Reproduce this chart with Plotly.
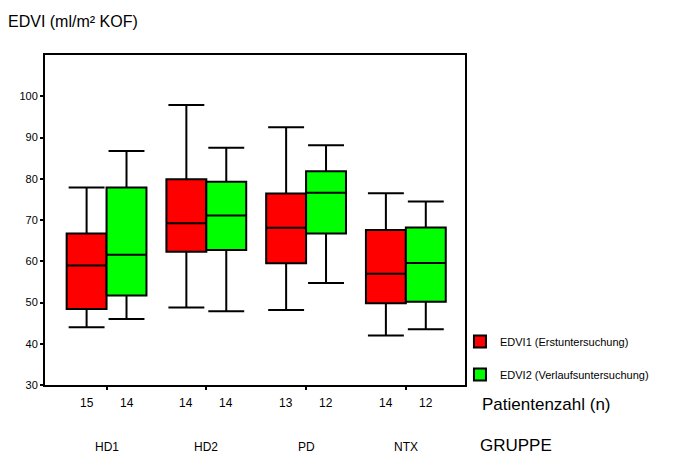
import plotly.graph_objects as go

groups = ["HD1", "HD2", "PD", "NTX"]
series_names = ["EDVI1 (Erstuntersuchung)", "EDVI2 (Verlaufsuntersuchung)"]
colors = ["#ff0000", "#00ff00"]

# EDVI1
s1_low = [44.0, 48.8, 48.2, 42.0]
s1_q1 = [48.4, 62.3, 59.5, 49.8]
s1_med = [59.0, 69.2, 68.1, 57.0]
s1_q3 = [66.7, 79.9, 76.4, 67.6]
s1_high = [77.9, 97.9, 92.5, 76.5]
s1_n = [15, 14, 13, 14]

# EDVI2
s2_low = [46.0, 47.9, 54.7, 43.5]
s2_q1 = [51.7, 62.7, 66.7, 50.2]
s2_med = [61.6, 71.1, 76.6, 59.6]
s2_q3 = [77.9, 79.3, 81.8, 68.2]
s2_high = [86.7, 87.5, 88.1, 74.5]
s2_n = [14, 14, 12, 12]

y_ticks = [30, 40, 50, 60, 70, 80, 90, 100]

font_fam = "Liberation Sans, Arial, sans-serif"

fig = go.Figure()
series = [
    (s1_low, s1_q1, s1_med, s1_q3, s1_high),
    (s2_low, s2_q1, s2_med, s2_q3, s2_high),
]
for k, (lo, q1, med, q3, hi) in enumerate(series):
    fig.add_trace(go.Box(
        name=series_names[k],
        x=groups,
        lowerfence=lo, q1=q1, median=med, q3=q3, upperfence=hi,
        fillcolor=colors[k],
        line=dict(color="black", width=2),
        whiskerwidth=0.9,
        boxpoints=False,
        legendgroup="g%d" % k,
    ))

annotations = []
for i, g in enumerate(groups):
    for k, nvals in enumerate([s1_n, s2_n]):
        annotations.append(dict(
            x=i - 0.2 + 0.4 * k, xref="x", y=-0.055, yref="paper",
            text=str(nvals[i]), showarrow=False,
            font=dict(size=12, color="black", family=font_fam),
            xanchor="center", yanchor="middle",
        ))
    annotations.append(dict(
        x=i, xref="x", y=-0.188, yref="paper", text=g, showarrow=False,
        font=dict(size=12, color="black", family=font_fam),
        xanchor="center", yanchor="middle",
    ))

annotations += [
    dict(x=1.036, xref="paper", y=-0.06, yref="paper", text="Patientenzahl (n)",
         showarrow=False, xanchor="left", yanchor="middle",
         font=dict(size=17, color="black", family=font_fam)),
    dict(x=1.031, xref="paper", y=-0.182, yref="paper", text="GRUPPE",
         showarrow=False, xanchor="left", yanchor="middle",
         font=dict(size=17, color="black", family=font_fam)),
    dict(x=-0.093, xref="paper", y=1.1, yref="paper", text="EDVI (ml/m² KOF)",
         showarrow=False, xanchor="left", yanchor="middle",
         font=dict(size=16, color="black", family=font_fam)),
]

fig.update_layout(
    width=683, height=459,
    margin=dict(l=37, r=226, t=47, b=82),
    paper_bgcolor="white", plot_bgcolor="white",
    boxmode="group", boxgap=0.2, boxgroupgap=0,
    font=dict(family=font_fam, color="black"),
    annotations=annotations,
    legend=dict(
        x=0.988, y=0.176, xanchor="left", yanchor="top",
        font=dict(size=11, color="black", family=font_fam),
        tracegroupgap=14, bgcolor="rgba(0,0,0,0)", itemwidth=30,
    ),
)
fig.update_xaxes(
    range=[-0.617, 3.593], showticklabels=False, ticks="outside", ticklen=3,
    tickwidth=2, tickcolor="black", showline=True, linecolor="black",
    linewidth=2, mirror=True, showgrid=False, zeroline=False,
)
fig.update_yaxes(
    range=[30, 110], tickvals=y_ticks, ticks="outside", ticklen=3, tickwidth=2,
    tickcolor="black", showline=True, linecolor="black", linewidth=2,
    mirror=True, showgrid=False, zeroline=False,
    tickfont=dict(size=11, color="black", family=font_fam),
)

fig.write_html("out.html")
